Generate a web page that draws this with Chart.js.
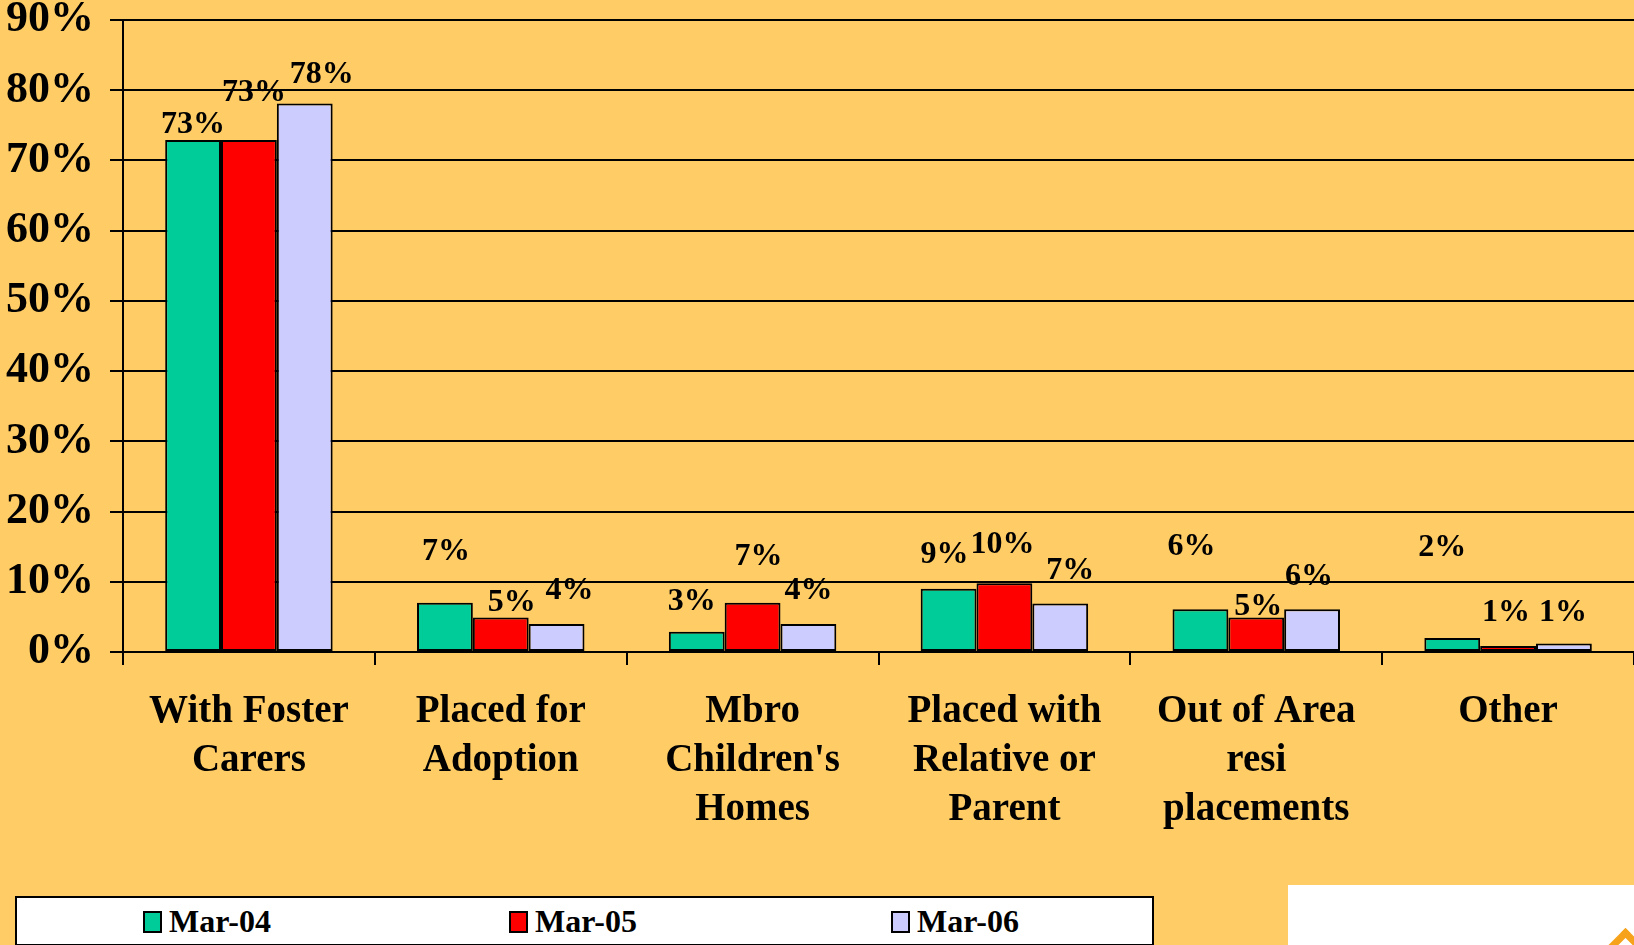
<!DOCTYPE html>
<html>
<head>
<meta charset="utf-8">
<script src="https://cdn.jsdelivr.net/npm/chart.js@4"></script>
<style>
  html, body { margin: 0; padding: 0; background: #FFCC66; overflow: hidden; }
  #wrap { position: relative; width: 1634px; height: 945px; overflow: hidden; }
  #grafico { position: absolute; left: 0; top: 0; }
  #legenda {
    position: absolute; left: 15px; top: 896px; width: 1139px; height: 50px;
    background: #fff; border: 2px solid #000; box-sizing: border-box;
    font: bold 32px "Liberation Serif", "Times New Roman", serif;
  }
  #legenda span { position: absolute; top: 5px; white-space: nowrap; }
  #legenda i {
    display: inline-block; width: 15px; height: 18px; border: 2px solid #000;
    margin-right: 7px; vertical-align: -1px;
  }
  #cantinho { position: absolute; left: 1288px; top: 885px; width: 346px; height: 60px; background: #fff; }
  #seta {
    position: absolute; left: 1611px; top: 934px; width: 22px; height: 22px;
    border-left: 7px solid #F7A21B; border-top: 7px solid #F7A21B; transform: rotate(45deg);
  }
</style>
</head>
<body>
<div id="wrap">
  <canvas id="grafico" width="1634" height="945"></canvas>
  <div id="legenda"></div>
  <div id="cantinho"></div>
  <div id="seta"></div>
</div>
<script>
// categorias do grafico (cada linha do rotulo e um item)
const categorias = [
  ["With Foster", "Carers"],
  ["Placed for", "Adoption"],
  ["Mbro", "Children's", "Homes"],
  ["Placed with", "Relative or", "Parent"],
  ["Out of Area", "resi", "placements"],
  ["Other"]
]
const series = ["Mar-04", "Mar-05", "Mar-06"]
const mar04 = [72.9, 7.0, 2.9, 9.0, 6.1, 2.0]
const mar05 = [72.9, 4.9, 7.0, 9.8, 4.9, 0.85]
const mar06 = [78.1, 4.0, 4.0, 6.9, 6.1, 1.2]
const rotulos = [
  ["73%", "7%", "3%", "9%", "6%", "2%"],
  ["73%", "5%", "7%", "10%", "5%", "1%"],
  ["78%", "4%", "4%", "7%", "6%", "1%"]
]
const ticksY = [0, 10, 20, 30, 40, 50, 60, 70, 80, 90]
const cores = ["#00CC99", "#FF0000", "#CCCCFF"]

// deslocamento dos rotulos como no excel: [dx, quanto acima do topo]
const ajusteRotulo = [
  [[0, 15], [1, 51], [-5, 30], [-4, 34], [-9, 62], [-10, 90]],
  [[5, 47], [11, 15], [6, 46], [-2, 38], [2, 11], [-2, 33]],
  [[17, 29], [13, 33], [0, 33], [10, 33], [-3, 32], [-1, 31]]
]

const fonteSerif = "'Liberation Serif', 'Times New Roman', serif"

// legenda em html
const posLegenda = [126, 492, 874]
const legenda = document.getElementById("legenda")
series.forEach(function(nome, i) {
  const item = document.createElement("span")
  item.style.left = posLegenda[i] + "px"
  item.innerHTML = '<i style="background:' + cores[i] + '"></i>' + nome
  legenda.appendChild(item)
})

const pluginRotulos = {
  id: "rotulos",
  afterDatasetsDraw(chart) {
    const ctx = chart.ctx
    ctx.save()
    ctx.font = "bold 32px " + fonteSerif
    ctx.fillStyle = "#000"
    ctx.textAlign = "center"
    ctx.textBaseline = "middle"
    chart.data.datasets.forEach(function(ds, i) {
      const meta = chart.getDatasetMeta(i)
      meta.data.forEach(function(barra, j) {
        const aj = ajusteRotulo[i][j]
        ctx.fillText(rotulos[i][j], barra.x + aj[0], barra.y - aj[1])
      })
    })
    ctx.restore()
  }
}

new Chart(document.getElementById("grafico"), {
  type: "bar",
  data: {
    labels: categorias,
    datasets: [
      { label: series[0], data: mar04, backgroundColor: cores[0] },
      { label: series[1], data: mar05, backgroundColor: cores[1] },
      { label: series[2], data: mar06, backgroundColor: cores[2] }
    ]
  },
  options: {
    responsive: false,
    animation: false,
    layout: { padding: { top: 20, right: 0, left: 0, bottom: 0 } },
    datasets: {
      bar: {
        categoryPercentage: 0.665,
        barPercentage: 1,
        borderColor: "#000",
        borderWidth: 2,
        borderSkipped: false
      }
    },
    plugins: {
      legend: { display: false },
      tooltip: { enabled: false }
    },
    scales: {
      y: {
        min: 0,
        max: 90,
        afterFit(scale) {
          scale.width = 123
          scale.paddingTop = 0
          scale.paddingBottom = 0
        },
        afterBuildTicks(scale) { scale.ticks = ticksY.map(v => ({ value: v })) },
        border: { color: "#000", width: 2 },
        grid: { color: "#000", lineWidth: 2, tickLength: 13 },
        ticks: {
          padding: 16,
          color: "#000",
          font: { family: fonteSerif, size: 44, weight: "bold", lineHeight: 0.91 },
          callback: v => v + "%"
        }
      },
      x: {
        afterFit(scale) {
          scale.height = 945 - 652
          scale.paddingRight = 0
        },
        border: { color: "#000", width: 2 },
        grid: { drawOnChartArea: false, color: "#000", lineWidth: 2, tickLength: 13, offset: true },
        ticks: {
          padding: 22,
          color: "#000",
          maxRotation: 0,
          autoSkip: false,
          font: { family: fonteSerif, size: 39, weight: "bold", lineHeight: 1.26 }
        }
      }
    }
  },
  plugins: [pluginRotulos]
})
</script>
</body>
</html>
